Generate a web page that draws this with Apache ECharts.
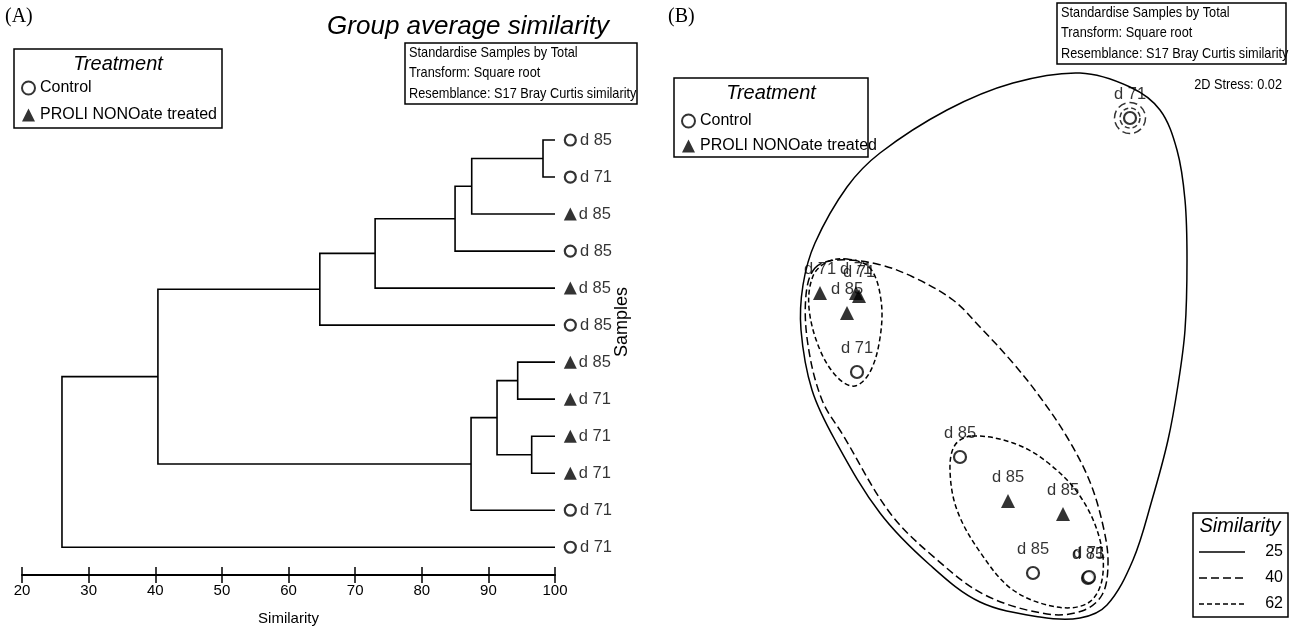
<!DOCTYPE html>
<html>
<head>
<meta charset="utf-8">
<script src="https://cdn.jsdelivr.net/npm/echarts@6/dist/echarts.min.js"></script>
<style>
  html, body { margin: 0; padding: 0; background: #fff; }
  #chart { width: 1290px; height: 635px; }
</style>
</head>
<body>
<div id="chart"></div>
<script>
// samples, in dendrogram leaf order (top to bottom)
var leafTreat = ['Control', 'Control', 'PROLI', 'Control', 'PROLI', 'Control',
                 'PROLI', 'PROLI', 'PROLI', 'PROLI', 'Control', 'Control'];
var leafDay = ['d 85', 'd 71', 'd 85', 'd 85', 'd 85', 'd 85',
               'd 85', 'd 71', 'd 71', 'd 71', 'd 71', 'd 71'];

// group average linkage: node a joins node b at similarity sim (new nodes numbered from 12)
var mergeA = [0, 12, 13, 14, 15, 6, 8, 17, 19, 16, 21];
var mergeB = [1, 2, 3, 4, 5, 7, 9, 18, 10, 20, 11];
var mergeSim = [98.2, 87.5, 85.0, 73.0, 64.7, 94.4, 96.5, 91.3, 87.4, 40.4, 26.0];

var simTicks = [20, 30, 40, 50, 60, 70, 80, 90, 100];

// nMDS coordinates, same sample order
var mdsX = [0.98, 0.99, 0.73, 0.43, 0.18, -0.30, -1.43, -1.70, -1.31, -1.34, -1.33, 1.40];
var mdsY = [-2.38, -2.37, -1.74, -2.33, -1.61, -1.17, 0.27, 0.47, 0.44, 0.47, -0.32, 2.22];

// similarity contours on the MDS plot
var contour25 = [[0.90, 2.67], [1.40, 2.53], [1.70, 2.30], [1.87, 1.90], [1.95, 1.40], [1.97, 0.80],
  [1.95, 0.10], [1.88, -0.45], [1.78, -1.00], [1.62, -1.60], [1.43, -2.20], [1.17, -2.65],
  [0.90, -2.78], [0.50, -2.77], [-0.10, -2.62], [-0.60, -2.25], [-1.10, -1.73], [-1.55, -1.00],
  [-1.78, -0.50], [-1.89, 0.10], [-1.87, 0.55], [-1.75, 0.97], [-1.43, 1.53], [-1.10, 1.87],
  [-0.43, 2.30], [0.23, 2.57]];
var contour40 = [[-1.75, 0.72], [-1.53, 0.80], [-1.13, 0.76], [-0.77, 0.63], [-0.37, 0.40],
  [-0.10, 0.13], [0.23, -0.23], [0.50, -0.57], [0.77, -0.97], [1.00, -1.42], [1.14, -1.90],
  [1.18, -2.25], [1.12, -2.55], [0.92, -2.71], [0.57, -2.74], [-0.05, -2.55], [-0.55, -2.18],
  [-1.00, -1.73], [-1.47, -0.95], [-1.68, -0.60], [-1.82, -0.05], [-1.84, 0.45]];
var contour62a = [[-1.43, 0.81], [-1.20, 0.72], [-1.09, 0.40], [-1.10, 0.02], [-1.20, -0.32],
  [-1.35, -0.46], [-1.52, -0.38], [-1.70, -0.10], [-1.81, 0.32], [-1.77, 0.64], [-1.63, 0.78]];
var contour62b = [[-0.18, -0.96], [0.23, -1.03], [0.57, -1.22], [0.90, -1.56], [1.10, -2.00],
  [1.12, -2.40], [0.98, -2.63], [0.67, -2.67], [0.23, -2.50], [-0.10, -2.12], [-0.33, -1.70],
  [-0.40, -1.30], [-0.35, -1.05]];
var outlier = 11;

var SANS = "'Liberation Sans', Arial, sans-serif";
var PROLI = 'PROLI NONOate treated';
var DASH40 = [8, 4];
var DASH62 = [5, 3];

// dendrogram segments built from the linkage
var nodeY = leafDay.map(function (d, i) { return i + 1; });
var nodeH = leafDay.map(function () { return 100; });
var segs = [];
mergeA.forEach(function (a, k) {
  var b = mergeB[k];
  segs.push([nodeH[a], nodeY[a], mergeSim[k], nodeY[b], nodeH[b]]);
  nodeY.push((nodeY[a] + nodeY[b]) / 2);
  nodeH.push(mergeSim[k]);
});

function leafData(treat) {
  var out = [];
  leafTreat.forEach(function (t, i) {
    if (t === treat) out.push([102.3, i + 1, leafDay[i]]);
  });
  return out;
}
function mdsData(treat) {
  var out = [];
  leafTreat.forEach(function (t, i) {
    if (t === treat) out.push([mdsX[i], mdsY[i], leafDay[i]]);
  });
  return out;
}

var openCircle = { color: '#fff', borderColor: '#000', borderWidth: 2.2 };
var solidTri = { color: '#000' };
var labelFmt = function (p) { return p.value[2]; };

function contourSeries(pts, dash) {
  return {
    type: 'custom', xAxisIndex: 2, yAxisIndex: 1, silent: true, z: 1,
    data: pts,
    renderItem: function (params, api) {
      if (params.dataIndex !== 0) return;
      var p = pts.map(function (q) { return api.coord(q); });
      return {
        type: 'polygon',
        shape: { points: p, smooth: 0.35 },
        style: { fill: null, stroke: '#000', lineWidth: 1.5, lineDash: dash }
      };
    }
  };
}

function boxText(x, y, str, font, align, sx) {
  return { type: 'text', x: x, y: y, scaleX: sx || 1,
    style: { text: str, font: font, fill: '#000', x: 0, y: 0,
      align: align || 'left', textAlign: align || 'left', verticalAlign: 'middle', textVerticalAlign: 'middle' } };
}
// narrow look like the original PRIMER boxes
function narrowText(x, y, str, align) {
  return boxText(x, y, str, "15px " + SANS, align, 0.85);
}
function frame(x, y, w, h) {
  return { type: 'rect', shape: { x: x, y: y, width: w, height: h },
    style: { fill: 'none', stroke: '#000', lineWidth: 1.5 } };
}
function sample(x1, x2, y, dash) {
  return { type: 'line', shape: { x1: x1, y1: y, x2: x2, y2: y },
    style: { stroke: '#000', lineWidth: 1.5, lineDash: dash } };
}

var chart = echarts.init(document.getElementById('chart'));

var option = {
  backgroundColor: '#fff',
  animation: false,
  grid: [
    { left: 22, top: 103, width: 533, height: 472 },
    { left: 780, top: 60, width: 420, height: 560 }
  ],
  xAxis: [
    { gridIndex: 0, type: 'value', min: 20, max: 100, interval: 10, position: 'bottom',
      axisLine: { onZero: false, lineStyle: { color: '#000', width: 2 } },
      axisTick: { length: 8, lineStyle: { color: '#000', width: 1.5 } },
      axisLabel: { color: '#000', fontSize: 15, fontFamily: SANS, margin: 8 },
      splitLine: { show: false },
      name: 'Similarity', nameLocation: 'middle', nameGap: 36,
      nameTextStyle: { color: '#000', fontSize: 15, fontFamily: SANS } },
    { gridIndex: 0, type: 'value', min: 20, max: 100, interval: 10, position: 'bottom',
      axisLine: { show: false, onZero: false },
      axisTick: { inside: true, length: 8, lineStyle: { color: '#000', width: 1.5 } },
      axisLabel: { show: false }, splitLine: { show: false } },
    { gridIndex: 1, type: 'value', min: -2.1, max: 2.1, show: false }
  ],
  yAxis: [
    { gridIndex: 0, type: 'value', inverse: true, min: 0, max: 12.75, show: false },
    { gridIndex: 1, type: 'value', min: -2.8, max: 2.8, show: false }
  ],
  legend: [
    { data: ['Control', PROLI], orient: 'vertical', left: 16, top: 75, itemGap: 11,
      itemWidth: 13, itemHeight: 13, selectedMode: false,
      textStyle: { color: '#000', fontSize: 16, fontFamily: SANS, lineHeight: 16 } },
    { data: ['Control', PROLI], orient: 'vertical', left: 676, top: 108, itemGap: 9,
      itemWidth: 13, itemHeight: 13, selectedMode: false,
      textStyle: { color: '#000', fontSize: 16, fontFamily: SANS, lineHeight: 16 } }
  ],
  series: [
    { type: 'custom', xAxisIndex: 0, yAxisIndex: 0, silent: true,
      data: segs, encode: { x: [0, 2, 4], y: [1, 3] },
      renderItem: function (params, api) {
        var p1 = api.coord([api.value(0), api.value(1)]);
        var p2 = api.coord([api.value(2), api.value(1)]);
        var p3 = api.coord([api.value(2), api.value(3)]);
        var p4 = api.coord([api.value(4), api.value(3)]);
        return { type: 'polyline', shape: { points: [p1, p2, p3, p4] },
          style: { fill: null, stroke: '#000', lineWidth: 1.6 } };
      } },
    { name: 'Control', type: 'scatter', xAxisIndex: 0, yAxisIndex: 0, clip: false,
      symbol: 'circle', symbolSize: 11, itemStyle: openCircle, data: leafData('Control'),
      label: { show: true, position: 'right', distance: 3, color: '#000', fontSize: 16.5,
        fontFamily: SANS, formatter: labelFmt } },
    { name: PROLI, type: 'scatter', xAxisIndex: 0, yAxisIndex: 0, clip: false,
      symbol: 'triangle', symbolSize: 13, itemStyle: solidTri, data: leafData('PROLI'),
      label: { show: true, position: 'right', distance: 2, color: '#000', fontSize: 16.5,
        fontFamily: SANS, formatter: labelFmt } },
    contourSeries(contour25, null),
    contourSeries(contour40, DASH40),
    contourSeries(contour62a, DASH62),
    contourSeries(contour62b, DASH62),
    { type: 'scatter', xAxisIndex: 2, yAxisIndex: 1, silent: true, z: 1,
      symbol: 'circle', symbolSize: 20,
      itemStyle: { color: 'none', borderColor: '#000', borderWidth: 1.5, borderType: DASH62 },
      data: [[mdsX[outlier], mdsY[outlier]]] },
    { type: 'scatter', xAxisIndex: 2, yAxisIndex: 1, silent: true, z: 1,
      symbol: 'circle', symbolSize: 31,
      itemStyle: { color: 'none', borderColor: '#000', borderWidth: 1.5, borderType: DASH40 },
      data: [[mdsX[outlier], mdsY[outlier]]] },
    { name: 'Control', type: 'scatter', xAxisIndex: 2, yAxisIndex: 1, z: 3,
      symbol: 'circle', symbolSize: 12, itemStyle: openCircle, data: mdsData('Control'),
      label: { show: true, position: 'top', distance: 8, color: '#000', fontSize: 16.5,
        fontFamily: SANS, formatter: labelFmt } },
    { name: PROLI, type: 'scatter', xAxisIndex: 2, yAxisIndex: 1, z: 3,
      symbol: 'triangle', symbolSize: 14, itemStyle: solidTri, data: mdsData('PROLI'),
      label: { show: true, position: 'top', distance: 8, color: '#000', fontSize: 16.5,
        fontFamily: SANS, formatter: labelFmt } }
  ],
  graphic: { elements: [
    boxText(5, 17, '(A)', "20px 'Liberation Serif', serif"),
    boxText(668, 17, '(B)', "20px 'Liberation Serif', serif"),
    boxText(468, 27, 'Group average similarity', "italic 26px " + SANS, 'center'),
    { type: 'text', x: 622, y: 322, rotation: Math.PI / 2,
      style: { text: 'Samples', font: "18px " + SANS, fill: '#000', x: 0, y: 0, align: 'center',
        textAlign: 'center', verticalAlign: 'middle', textVerticalAlign: 'middle' } },
    // treatment legend frames
    frame(14, 49, 208, 79),
    boxText(118, 64, 'Treatment', "italic 20px " + SANS, 'center'),
    frame(674, 78, 194, 79),
    boxText(771, 93, 'Treatment', "italic 20px " + SANS, 'center'),
    // analysis info boxes
    frame(405, 43, 232, 61),
    narrowText(409, 53, 'Standardise Samples by Total'),
    narrowText(409, 73, 'Transform: Square root'),
    narrowText(409, 94, 'Resemblance: S17 Bray Curtis similarity'),
    frame(1057, 3, 229, 61),
    narrowText(1061, 13, 'Standardise Samples by Total'),
    narrowText(1061, 33, 'Transform: Square root'),
    narrowText(1061, 54, 'Resemblance: S17 Bray Curtis similarity'),
    narrowText(1282, 85, '2D Stress: 0.02', 'right'),
    // similarity legend
    frame(1193, 513, 95, 104),
    boxText(1240, 526, 'Similarity', "italic 20px " + SANS, 'center'),
    sample(1199, 1245, 552, null),
    boxText(1283, 552, '25', "16px " + SANS, 'right'),
    sample(1199, 1245, 578, DASH40),
    boxText(1283, 578, '40', "16px " + SANS, 'right'),
    sample(1199, 1245, 604, DASH62),
    boxText(1283, 604, '62', "16px " + SANS, 'right')
  ] }
};

chart.setOption(option);
</script>
</body>
</html>
